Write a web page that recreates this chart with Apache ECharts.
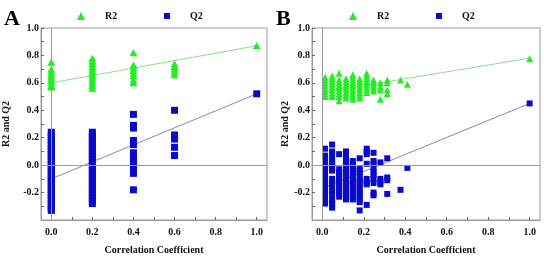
<!DOCTYPE html>
<html>
<head>
<meta charset="utf-8">
<script src="https://cdn.jsdelivr.net/npm/echarts@6/dist/echarts.min.js"></script>
<style>
html, body { margin: 0; padding: 0; background: #fff; }
#chart { width: 544px; height: 260px; }
</style>
</head>
<body>
<div id="chart"></div>
<script>
// tick labels
var xLabels = [0, 0.2, 0.4, 0.6, 0.8, 1.0];
var xTicks = [0, 0.1, 0.2, 0.3, 0.4, 0.5, 0.6, 0.7, 0.8, 0.9, 1.0];
var yLabels = [-0.2, 0, 0.2, 0.4, 0.6, 0.8, 1.0];
var yTicks = [-0.3, -0.2, -0.1, 0, 0.1, 0.2, 0.3, 0.4, 0.5, 0.6, 0.7, 0.8, 0.9, 1.0];

// panel A: correlation coefficient columns
var xA = [0, 0.2, 0.4, 0.6, 1.0];
var r2A = [
    [0.75, 0.70, 0.68, 0.66, 0.64, 0.62, 0.60, 0.58, 0.57],
    [0.78, 0.76, 0.74, 0.72, 0.70, 0.68, 0.66, 0.64, 0.62, 0.60, 0.58, 0.56],
    [0.82, 0.73, 0.71, 0.69, 0.67, 0.65, 0.62, 0.60],
    [0.74, 0.72, 0.70, 0.68, 0.66],
    [0.87]
];
var q2A = [
    [0.24, 0.22, 0.20, 0.18, 0.16, 0.14, 0.12, 0.10, 0.08, 0.06, 0.04, 0.02, 0.00, -0.02, -0.04, -0.06, -0.08, -0.10, -0.12, -0.14, -0.16, -0.18, -0.20, -0.22, -0.24, -0.26, -0.28, -0.30, -0.32, -0.33],
    [0.24, 0.22, 0.20, 0.18, 0.16, 0.14, 0.12, 0.10, 0.08, 0.06, 0.04, 0.02, 0.00, -0.02, -0.04, -0.06, -0.08, -0.10, -0.12, -0.14, -0.16, -0.18, -0.20, -0.22, -0.24, -0.26, -0.28],
    [0.37, 0.29, 0.27, 0.18, 0.15, 0.09, 0.06, 0.03, 0.00, -0.03, -0.06, -0.18],
    [0.40, 0.22, 0.19, 0.13, 0.07],
    [0.52]
];
var fitR2A = [[0, 0.60], [1.0, 0.87]];
var fitQ2A = [[0, -0.10], [1.0, 0.52]];

// panel B
var xB = [0.013, 0.047, 0.081, 0.114, 0.147, 0.18, 0.214, 0.247, 0.28, 0.313, 0.377, 0.41, 1.0];
var r2B = [
    [0.64, 0.62, 0.60, 0.58, 0.56, 0.54, 0.52, 0.50],
    [0.65, 0.63, 0.61, 0.59, 0.57, 0.55, 0.53, 0.51, 0.50],
    [0.67, 0.62, 0.60, 0.58, 0.56, 0.54, 0.52, 0.50, 0.47],
    [0.63, 0.61, 0.59, 0.57, 0.55, 0.53, 0.51, 0.49],
    [0.66, 0.64, 0.62, 0.60, 0.58, 0.56, 0.54, 0.52, 0.50, 0.48],
    [0.63, 0.61, 0.59, 0.57, 0.55, 0.53, 0.51, 0.49],
    [0.67, 0.65, 0.63, 0.61, 0.59, 0.57, 0.55, 0.53],
    [0.62, 0.60, 0.58, 0.56, 0.54],
    [0.60, 0.57, 0.55, 0.48],
    [0.62, 0.60, 0.55, 0.52],
    [0.62],
    [0.59],
    [0.775]
];
var q2B = [
    [0.12, 0.07, 0.05, 0.03, 0.01, -0.01, -0.03, -0.05, -0.07, -0.09, -0.11, -0.13, -0.15, -0.17, -0.19, -0.21, -0.25, -0.27, -0.28],
    [0.15, 0.10, 0.08, 0.04, 0.02, 0.00, -0.02, -0.04, -0.10, -0.12, -0.14, -0.17, -0.19, -0.22, -0.26, -0.28, -0.31],
    [0.08, -0.03, -0.05, -0.07, -0.09, -0.11, -0.13, -0.15, -0.17, -0.19, -0.21, -0.23],
    [0.10, 0.07, 0.05, 0.03, 0.01, -0.01, -0.03, -0.05, -0.07, -0.09, -0.11, -0.13, -0.15, -0.17, -0.19, -0.21, -0.23, -0.25],
    [0.03, 0.01, -0.01, -0.03, -0.05, -0.07, -0.09, -0.11, -0.13, -0.15, -0.17, -0.19, -0.21, -0.23, -0.25],
    [0.05, -0.02, -0.04, -0.06, -0.09, -0.11, -0.13, -0.15, -0.17, -0.19, -0.21, -0.23, -0.25, -0.27, -0.33],
    [0.12, 0.10, 0.08, 0.01, -0.10, -0.12, -0.14, -0.29],
    [0.09, 0.03, 0.01, -0.02, -0.05, -0.07, -0.10, -0.13, -0.20, -0.22],
    [0.02, -0.10, -0.12, -0.14],
    [0.05, -0.09, -0.11, -0.21],
    [-0.18],
    [-0.02],
    [0.45]
];
var fitR2B = [[0, 0.53], [1.0, 0.78]];
var fitQ2B = [[0, -0.17], [1.0, 0.45]];

var green = '#22ee22';
var blue = '#0a0acc';
var gray = '#9a9a9a';
var font = '"Liberation Serif", "Times New Roman", serif';

function pairs(xs, cols) {
    var out = [];
    xs.forEach(function(x, i) {
        cols[i].forEach(function(v) { out.push([x, v]); });
    });
    return out;
}

function xAxis(gi) {
    return {
        gridIndex: gi, type: 'value', min: -0.05, max: 1.05,
        name: 'Correlation Coefficient', nameLocation: 'middle', nameGap: 25,
        nameTextStyle: { fontFamily: font, fontWeight: 'bold', fontSize: 10, color: '#111' },
        axisLine: { onZero: false, lineStyle: { color: gray } },
        axisTick: { inside: true, length: 3, customValues: xTicks, lineStyle: { color: '#666' } },
        axisLabel: {
            customValues: xLabels, margin: 7,
            fontFamily: font, fontWeight: 'bold', fontSize: 10, color: '#111',
            formatter: function(v) { return v.toFixed(1); }
        },
        splitLine: { show: false }
    };
}

function yAxis(gi, gap) {
    return {
        gridIndex: gi, type: 'value', min: -0.4, max: 1.0,
        name: 'R2 and Q2', nameLocation: 'middle', nameGap: gap,
        nameTextStyle: { fontFamily: font, fontWeight: 'bold', fontSize: 10, color: '#111' },
        axisLine: { onZero: false, lineStyle: { color: gray } },
        axisTick: { inside: true, length: 3, customValues: yTicks, lineStyle: { color: '#666' } },
        axisLabel: {
            customValues: yLabels, margin: 2,
            fontFamily: font, fontWeight: 'bold', fontSize: 10, color: '#111',
            formatter: function(v) { return v.toFixed(1); }
        },
        splitLine: { show: false }
    };
}

function legend(name, left, size) {
    return {
        data: [name], left: left, top: 6, itemWidth: size, itemHeight: size,
        selectedMode: false,
        textStyle: { fontFamily: font, fontWeight: 'bold', fontSize: 10, color: '#111', padding: [0, 0, 0, 15] }
    };
}

function panel(gi, r2, q2, fitR2, fitQ2, triSize, sqSize) {
    var fitLine = function(name, data, color, extra) {
        var s = {
            name: name + 'fit', type: 'line', xAxisIndex: gi, yAxisIndex: gi,
            data: data, showSymbol: false, silent: true, z: 1,
            lineStyle: { color: color, width: 1 }
        };
        if (extra) {
            s.markLine = {
                silent: true, symbol: 'none', label: { show: false },
                lineStyle: { color: gray, type: 'solid', width: 1 },
                data: [{ yAxis: 0 }, { xAxis: 0 }]
            };
        }
        return s;
    };
    return [
        fitLine('R2', fitR2, '#8fdc8f', true),
        fitLine('Q2', fitQ2, '#8585c8', false),
        {
            name: 'R2', type: 'scatter', xAxisIndex: gi, yAxisIndex: gi, z: 3,
            symbol: 'triangle', symbolSize: triSize, data: r2,
            itemStyle: { color: green, opacity: 1 }
        },
        {
            name: 'Q2', type: 'scatter', xAxisIndex: gi, yAxisIndex: gi, z: 3,
            symbol: 'rect', symbolSize: sqSize, data: q2,
            itemStyle: { color: blue, opacity: 1 }
        }
    ];
}

var chart = echarts.init(document.getElementById('chart'));
var option = {
    backgroundColor: '#fff',
    animation: false,
    grid: [
        { left: 40, top: 28, width: 227, height: 193, show: true, borderColor: gray, borderWidth: 1 },
        { left: 312, top: 28, width: 228, height: 193, show: true, borderColor: gray, borderWidth: 1 }
    ],
    legend: [
        legend('R2', 72, 8), legend('Q2', 159, 6),
        legend('R2', 344, 8), legend('Q2', 431, 6)
    ],
    graphic: [
        { type: 'text', left: 4, top: 8, style: { text: 'A', font: 'bold 22px ' + font, fill: '#000' } },
        { type: 'text', left: 276, top: 8, style: { text: 'B', font: 'bold 22px ' + font, fill: '#000' } }
    ],
    xAxis: [xAxis(0), xAxis(1)],
    yAxis: [yAxis(0, 30), yAxis(1, 20)],
    series: panel(0, pairs(xA, r2A), pairs(xA, q2A), fitR2A, fitQ2A, [8, 7], 7)
        .concat(panel(1, pairs(xB, r2B), pairs(xB, q2B), fitR2B, fitQ2B, [7, 7], 6))
};
chart.setOption(option);
</script>
</body>
</html>
